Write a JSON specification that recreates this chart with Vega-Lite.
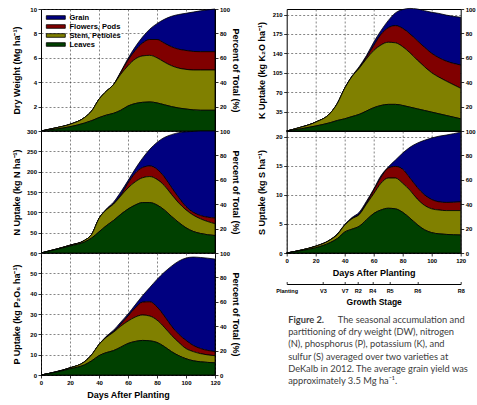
{
"$schema": "https://vega.github.io/schema/vega-lite/v6.json",
"padding": {"left": 11, "top": 5, "right": 0, "bottom": 0},
"background": "white",
"datasets": {
"dw": [{"d":0,"lv":0,"st":0,"fl":0,"tot":0},{"d":10,"lv":0.15,"st":0.25,"fl":0.25,"tot":0.25},{"d":20,"lv":0.35,"st":0.55,"fl":0.55,"tot":0.55},{"d":30,"lv":0.65,"st":1.1,"fl":1.1,"tot":1.1},{"d":35,"lv":0.85,"st":1.65,"fl":1.65,"tot":1.65},{"d":40,"lv":1.1,"st":2.6,"fl":2.6,"tot":2.6},{"d":45,"lv":1.3,"st":3.25,"fl":3.25,"tot":3.25},{"d":50,"lv":1.45,"st":3.8,"fl":3.8,"tot":3.8},{"d":55,"lv":1.7,"st":4.65,"fl":4.8,"tot":4.85},{"d":60,"lv":2.05,"st":5.35,"fl":5.8,"tot":5.95},{"d":65,"lv":2.25,"st":5.9,"fl":6.6,"tot":6.9},{"d":70,"lv":2.35,"st":6.15,"fl":7.2,"tot":7.7},{"d":75,"lv":2.38,"st":6.2,"fl":7.5,"tot":8.35},{"d":80,"lv":2.3,"st":6.0,"fl":7.5,"tot":8.8},{"d":85,"lv":2.15,"st":5.65,"fl":7.2,"tot":9.15},{"d":90,"lv":2.0,"st":5.35,"fl":6.9,"tot":9.4},{"d":95,"lv":1.88,"st":5.15,"fl":6.7,"tot":9.55},{"d":100,"lv":1.8,"st":5.05,"fl":6.6,"tot":9.65},{"d":105,"lv":1.73,"st":5.0,"fl":6.52,"tot":9.75},{"d":110,"lv":1.7,"st":5.0,"fl":6.5,"tot":9.85},{"d":120,"lv":1.7,"st":5.0,"fl":6.5,"tot":10.0}],
"n": [{"d":0,"lv":0,"st":0,"fl":0,"tot":0},{"d":10,"lv":8,"st":9,"fl":9,"tot":9},{"d":20,"lv":17,"st":19,"fl":19,"tot":19},{"d":30,"lv":27,"st":31,"fl":31,"tot":31},{"d":35,"lv":37,"st":46,"fl":46,"tot":46},{"d":40,"lv":52,"st":85,"fl":85,"tot":85},{"d":45,"lv":67,"st":106,"fl":106,"tot":108},{"d":50,"lv":80,"st":120,"fl":121,"tot":125},{"d":55,"lv":95,"st":140,"fl":142,"tot":150},{"d":60,"lv":108,"st":160,"fl":172,"tot":178},{"d":65,"lv":118,"st":175,"fl":196,"tot":207},{"d":70,"lv":124,"st":185,"fl":210,"tot":233},{"d":75,"lv":124,"st":188,"fl":214,"tot":255},{"d":80,"lv":118,"st":181,"fl":206,"tot":272},{"d":85,"lv":106,"st":166,"fl":187,"tot":284},{"d":90,"lv":90,"st":144,"fl":161,"tot":291},{"d":95,"lv":75,"st":123,"fl":136,"tot":296},{"d":100,"lv":62,"st":106,"fl":114,"tot":298},{"d":105,"lv":53,"st":93,"fl":100,"tot":299},{"d":110,"lv":48,"st":84,"fl":92,"tot":300},{"d":120,"lv":43,"st":72,"fl":86,"tot":300}],
"p": [{"d":0,"lv":0,"st":0,"fl":0,"tot":0},{"d":10,"lv":1.3,"st":1.5,"fl":1.5,"tot":1.5},{"d":20,"lv":3.0,"st":3.5,"fl":3.5,"tot":3.5},{"d":30,"lv":5.0,"st":6.5,"fl":6.5,"tot":6.5},{"d":35,"lv":7.0,"st":10,"fl":10,"tot":10},{"d":40,"lv":9.5,"st":15,"fl":15,"tot":15},{"d":45,"lv":11,"st":18.5,"fl":18.6,"tot":19},{"d":50,"lv":12,"st":21,"fl":21.3,"tot":22},{"d":55,"lv":13.7,"st":24,"fl":25,"tot":26},{"d":60,"lv":15.5,"st":26.5,"fl":29,"tot":30},{"d":65,"lv":16.5,"st":28.5,"fl":33,"tot":34.5},{"d":70,"lv":17,"st":29.5,"fl":35.8,"tot":39},{"d":75,"lv":16.8,"st":29,"fl":36,"tot":43},{"d":80,"lv":16,"st":27,"fl":33.5,"tot":47},{"d":85,"lv":14,"st":23.5,"fl":29,"tot":50.5},{"d":90,"lv":11.5,"st":19.5,"fl":24,"tot":53.5},{"d":95,"lv":9.5,"st":16,"fl":20,"tot":56},{"d":100,"lv":8,"st":13,"fl":17,"tot":57.5},{"d":105,"lv":7,"st":11.5,"fl":14.5,"tot":58},{"d":110,"lv":6.5,"st":10.5,"fl":13,"tot":57.8},{"d":120,"lv":6,"st":9.5,"fl":11.5,"tot":57}],
"k": [{"d":0,"lv":0,"st":0,"fl":0,"tot":0},{"d":10,"lv":4,"st":7,"fl":7,"tot":7},{"d":20,"lv":9,"st":16,"fl":16,"tot":16},{"d":30,"lv":15,"st":32,"fl":32,"tot":32},{"d":35,"lv":19,"st":50,"fl":50,"tot":50},{"d":40,"lv":22,"st":77,"fl":77,"tot":77},{"d":45,"lv":26,"st":98,"fl":98,"tot":99},{"d":50,"lv":30,"st":113,"fl":114,"tot":116},{"d":55,"lv":36,"st":130,"fl":133,"tot":136},{"d":60,"lv":42,"st":145,"fl":154,"tot":160},{"d":65,"lv":46,"st":155,"fl":174,"tot":181},{"d":70,"lv":48,"st":160,"fl":186,"tot":199},{"d":75,"lv":48,"st":159,"fl":190,"tot":213},{"d":80,"lv":46,"st":152,"fl":185,"tot":219},{"d":85,"lv":43,"st":141,"fl":175,"tot":221},{"d":90,"lv":40,"st":128,"fl":163,"tot":220},{"d":95,"lv":37,"st":116,"fl":151,"tot":217},{"d":100,"lv":34,"st":105,"fl":140,"tot":214},{"d":105,"lv":31,"st":97,"fl":132,"tot":212},{"d":110,"lv":28,"st":90,"fl":126,"tot":209},{"d":120,"lv":22,"st":77,"fl":119,"tot":205}],
"s": [{"d":0,"lv":0,"st":0,"fl":0,"tot":0},{"d":10,"lv":0.4,"st":0.5,"fl":0.5,"tot":0.5},{"d":20,"lv":0.9,"st":1.15,"fl":1.15,"tot":1.2},{"d":30,"lv":1.8,"st":2.25,"fl":2.25,"tot":2.3},{"d":35,"lv":2.5,"st":3.2,"fl":3.2,"tot":3.3},{"d":40,"lv":3.6,"st":4.8,"fl":4.8,"tot":4.9},{"d":45,"lv":4.1,"st":5.9,"fl":5.9,"tot":6.1},{"d":50,"lv":4.6,"st":6.6,"fl":6.7,"tot":7.0},{"d":55,"lv":5.7,"st":8.4,"fl":8.6,"tot":8.9},{"d":60,"lv":6.8,"st":10.2,"fl":10.8,"tot":11.0},{"d":65,"lv":7.4,"st":12.0,"fl":13.0,"tot":13.3},{"d":70,"lv":7.7,"st":12.9,"fl":14.6,"tot":14.8},{"d":75,"lv":7.6,"st":12.9,"fl":14.9,"tot":16.0},{"d":80,"lv":7.0,"st":12.0,"fl":14.4,"tot":17.2},{"d":85,"lv":6.0,"st":10.8,"fl":12.9,"tot":18.2},{"d":90,"lv":4.9,"st":9.3,"fl":11.3,"tot":18.9},{"d":95,"lv":4.0,"st":8.2,"fl":10.0,"tot":19.4},{"d":100,"lv":3.5,"st":7.6,"fl":9.2,"tot":19.8},{"d":105,"lv":3.3,"st":7.4,"fl":8.8,"tot":20.1},{"d":110,"lv":3.2,"st":7.3,"fl":8.7,"tot":20.3},{"d":120,"lv":3.1,"st":7.3,"fl":8.8,"tot":20.8}]
},
"columns": 2,
"bounds": "flush",
"spacing": {"row": 0, "column": 71.7},
"resolve": {"scale": {"x": "independent", "y": "independent", "color": "independent"}, "legend": {"color": "independent"}},
"concat": [
{
 "width": 174, "height": 122, "data": {"name": "dw"},
 "layer": [
  {"encoding": {"x": {"field": "d", "type": "quantitative", "scale": {"domain": [0, 120], "nice": false}, "axis": {"values": [20, 40, 60, 80, 100], "tickCount": 50, "labels": false, "ticks": false, "title": null, "grid": true}}},
   "layer": [
    {"mark": {"type": "area", "interpolate": "monotone", "stroke": "black", "strokeWidth": 0.8}, "encoding": {"y": {"field": "tot", "type": "quantitative", "scale": {"domain": [0, 10], "nice": false}, "title": "Dry Weight (Mg ha⁻¹)", "axis": {"values": [2, 4, 6, 8, 10], "format": "d", "tickCount": 50, "grid": true, "titleX": -20, "titleY": 61, "titleAlign": "center", "titleBaseline": "bottom"}}, "y2": {"field": "fl"},
      "color": {"datum": "Grain", "type": "nominal", "scale": {"domain": ["Grain", "Flowers, Pods", "Stem, Petioles", "Leaves"], "range": ["#000080", "#800000", "#808000", "#004000"]},
        "legend": {"orient": "none", "legendX": 9.3, "legendY": 3, "title": null, "symbolType": "M-2,-0.38H2V0.38H-2Z", "symbolSize": 90, "symbolStrokeColor": "black", "symbolStrokeWidth": 0.8, "symbolOpacity": 1, "rowPadding": -2.5, "labelOffset": 8.2, "padding": 0}}}},
    {"mark": {"type": "area", "interpolate": "monotone", "stroke": "black", "strokeWidth": 0.8}, "encoding": {"y": {"field": "fl", "type": "quantitative", "title": "Dry Weight (Mg ha⁻¹)"}, "y2": {"field": "st"}, "color": {"datum": "Flowers, Pods", "type": "nominal"}}},
    {"mark": {"type": "area", "interpolate": "monotone", "stroke": "black", "strokeWidth": 0.8}, "encoding": {"y": {"field": "st", "type": "quantitative", "title": "Dry Weight (Mg ha⁻¹)"}, "y2": {"field": "lv"}, "color": {"datum": "Stem, Petioles", "type": "nominal"}}},
    {"mark": {"type": "area", "interpolate": "monotone", "stroke": "black", "strokeWidth": 0.8}, "encoding": {"y": {"field": "lv", "type": "quantitative", "title": "Dry Weight (Mg ha⁻¹)"}, "y2": {"datum": 0}, "color": {"datum": "Leaves", "type": "nominal"}}},
    {"data": {"values": [{}]}, "mark": {"type": "text", "text": "DW", "font": "Liberation Sans", "fontSize": 16.5, "fontWeight": "bold", "align": "left", "baseline": "middle", "color": "black"}, "encoding": {"x": {"datum": 3.2, "type": "quantitative"}, "y": {"datum": 5.75, "type": "quantitative"}}}
   ]},
  {"mark": {"type": "point", "opacity": 0}, "encoding": {"y": {"datum": 50, "type": "quantitative", "scale": {"domain": [0, 100], "nice": false}, "axis": {"orient": "right", "values": [20, 40, 60, 80, 100], "format": "d", "tickCount": 50, "grid": false, "title": "Percent of Total (%)", "titleX": 15, "titleY": 61, "titleAlign": "center", "titleBaseline": "bottom"}}}}
 ],
 "resolve": {"scale": {"y": "independent"}}
},
{
 "width": 174, "height": 122, "data": {"name": "k"},
 "layer": [
  {"encoding": {"x": {"field": "d", "type": "quantitative", "scale": {"domain": [0, 120], "nice": false}, "axis": {"values": [20, 40, 60, 80, 100], "tickCount": 50, "labels": false, "ticks": false, "title": null, "grid": true}}},
   "layer": [
    {"mark": {"type": "area", "interpolate": "monotone", "fill": "#000080", "stroke": "black", "strokeWidth": 0.8}, "encoding": {"y": {"field": "tot", "type": "quantitative", "scale": {"domain": [0, 220], "nice": false}, "title": "K Uptake (kg K₂O ha⁻¹)", "axis": {"values": [35, 70, 105, 140, 175, 210], "format": "d", "tickCount": 50, "grid": true, "titleX": -20, "titleY": 61, "titleAlign": "center", "titleBaseline": "bottom"}}, "y2": {"field": "fl"}}},
    {"mark": {"type": "area", "interpolate": "monotone", "fill": "#800000", "stroke": "black", "strokeWidth": 0.8}, "encoding": {"y": {"field": "fl", "type": "quantitative", "title": "K Uptake (kg K₂O ha⁻¹)"}, "y2": {"field": "st"}}},
    {"mark": {"type": "area", "interpolate": "monotone", "fill": "#808000", "stroke": "black", "strokeWidth": 0.8}, "encoding": {"y": {"field": "st", "type": "quantitative", "title": "K Uptake (kg K₂O ha⁻¹)"}, "y2": {"field": "lv"}}},
    {"mark": {"type": "area", "interpolate": "monotone", "fill": "#004000", "stroke": "black", "strokeWidth": 0.8}, "encoding": {"y": {"field": "lv", "type": "quantitative", "title": "K Uptake (kg K₂O ha⁻¹)"}, "y2": {"datum": 0}}},
    {"data": {"values": [{}]}, "mark": {"type": "text", "text": "K", "font": "Liberation Sans", "fontSize": 16, "fontWeight": "bold", "align": "left", "baseline": "middle", "color": "black"}, "encoding": {"x": {"datum": 5.7, "type": "quantitative"}, "y": {"datum": 185, "type": "quantitative"}}}
   ]},
  {"mark": {"type": "point", "opacity": 0}, "encoding": {"y": {"datum": 50, "type": "quantitative", "scale": {"domain": [0, 100], "nice": false}, "axis": {"orient": "right", "values": [20, 40, 60, 80, 100], "format": "d", "tickCount": 50, "grid": false, "title": null}}}}
 ],
 "resolve": {"scale": {"y": "independent"}}
},
{
 "width": 174, "height": 122, "data": {"name": "n"},
 "layer": [
  {"encoding": {"x": {"field": "d", "type": "quantitative", "scale": {"domain": [0, 120], "nice": false}, "axis": {"values": [20, 40, 60, 80, 100], "tickCount": 50, "labels": false, "ticks": false, "title": null, "grid": true}}},
   "layer": [
    {"mark": {"type": "area", "interpolate": "monotone", "fill": "#000080", "stroke": "black", "strokeWidth": 0.8}, "encoding": {"y": {"field": "tot", "type": "quantitative", "scale": {"domain": [0, 300], "nice": false}, "title": "N Uptake (kg N ha⁻¹)", "axis": {"values": [50, 100, 150, 200, 250, 300], "format": "d", "tickCount": 50, "grid": true, "titleX": -20, "titleY": 61, "titleAlign": "center", "titleBaseline": "bottom"}}, "y2": {"field": "fl"}}},
    {"mark": {"type": "area", "interpolate": "monotone", "fill": "#800000", "stroke": "black", "strokeWidth": 0.8}, "encoding": {"y": {"field": "fl", "type": "quantitative", "title": "N Uptake (kg N ha⁻¹)"}, "y2": {"field": "st"}}},
    {"mark": {"type": "area", "interpolate": "monotone", "fill": "#808000", "stroke": "black", "strokeWidth": 0.8}, "encoding": {"y": {"field": "st", "type": "quantitative", "title": "N Uptake (kg N ha⁻¹)"}, "y2": {"field": "lv"}}},
    {"mark": {"type": "area", "interpolate": "monotone", "fill": "#004000", "stroke": "black", "strokeWidth": 0.8}, "encoding": {"y": {"field": "lv", "type": "quantitative", "title": "N Uptake (kg N ha⁻¹)"}, "y2": {"datum": 0}}},
    {"data": {"values": [{}]}, "mark": {"type": "text", "text": "N", "font": "Liberation Sans", "fontSize": 16, "fontWeight": "bold", "align": "left", "baseline": "middle", "color": "black"}, "encoding": {"x": {"datum": 5, "type": "quantitative"}, "y": {"datum": 262, "type": "quantitative"}}}
   ]},
  {"mark": {"type": "point", "opacity": 0}, "encoding": {"y": {"datum": 50, "type": "quantitative", "scale": {"domain": [0, 100], "nice": false}, "axis": {"orient": "right", "values": [20, 40, 60, 80, 100], "format": "d", "tickCount": 50, "grid": false, "title": "Percent of Total (%)", "titleX": 15, "titleY": 61, "titleAlign": "center", "titleBaseline": "bottom"}}}}
 ],
 "resolve": {"scale": {"y": "independent"}}
},
{
 "width": 174, "height": 122, "data": {"name": "s"},
 "layer": [
  {"encoding": {"x": {"field": "d", "type": "quantitative", "scale": {"domain": [0, 120], "nice": false}, "axis": {"values": [0, 20, 40, 60, 80, 100, 120], "format": "d", "tickCount": 50, "title": "Days After Planting", "grid": true, "titlePadding": 5}}},
   "layer": [
    {"mark": {"type": "area", "interpolate": "monotone", "fill": "#000080", "stroke": "black", "strokeWidth": 0.8}, "encoding": {"y": {"field": "tot", "type": "quantitative", "scale": {"domain": [0, 21], "nice": false}, "title": "S Uptake (kg S ha⁻¹)", "axis": {"values": [0, 5, 10, 15, 20], "format": "d", "tickCount": 50, "grid": true, "titleX": -20, "titleY": 61, "titleAlign": "center", "titleBaseline": "bottom"}}, "y2": {"field": "fl"}}},
    {"mark": {"type": "area", "interpolate": "monotone", "fill": "#800000", "stroke": "black", "strokeWidth": 0.8}, "encoding": {"y": {"field": "fl", "type": "quantitative", "title": "S Uptake (kg S ha⁻¹)"}, "y2": {"field": "st"}}},
    {"mark": {"type": "area", "interpolate": "monotone", "fill": "#808000", "stroke": "black", "strokeWidth": 0.8}, "encoding": {"y": {"field": "st", "type": "quantitative", "title": "S Uptake (kg S ha⁻¹)"}, "y2": {"field": "lv"}}},
    {"mark": {"type": "area", "interpolate": "monotone", "fill": "#004000", "stroke": "black", "strokeWidth": 0.8}, "encoding": {"y": {"field": "lv", "type": "quantitative", "title": "S Uptake (kg S ha⁻¹)"}, "y2": {"datum": 0}}},
    {"data": {"values": [{}]}, "mark": {"type": "text", "text": "S", "font": "Liberation Sans", "fontSize": 16, "fontWeight": "bold", "align": "left", "baseline": "middle", "color": "black"}, "encoding": {"x": {"datum": 5.5, "type": "quantitative"}, "y": {"datum": 18.2, "type": "quantitative"}}}
   ]},
  {"mark": {"type": "point", "opacity": 0}, "encoding": {"y": {"datum": 50, "type": "quantitative", "scale": {"domain": [0, 100], "nice": false}, "axis": {"orient": "right", "values": [0, 20, 40, 60, 80, 100], "format": "d", "tickCount": 50, "grid": false, "title": null}}}}
 ],
 "resolve": {"scale": {"y": "independent"}}
},
{
 "width": 174, "height": 122, "data": {"name": "p"},
 "layer": [
  {"encoding": {"x": {"field": "d", "type": "quantitative", "scale": {"domain": [0, 120], "nice": false}, "axis": {"values": [0, 20, 40, 60, 80, 100, 120], "format": "d", "tickCount": 50, "title": "Days After Planting", "grid": true, "titlePadding": 5}}},
   "layer": [
    {"mark": {"type": "area", "interpolate": "monotone", "fill": "#000080", "stroke": "black", "strokeWidth": 0.8}, "encoding": {"y": {"field": "tot", "type": "quantitative", "scale": {"domain": [0, 60], "nice": false}, "title": "P Uptake (kg P₂O₅ ha⁻¹)", "axis": {"values": [0, 10, 20, 30, 40, 50, 60], "format": "d", "tickCount": 50, "grid": true, "titleX": -20, "titleY": 61, "titleAlign": "center", "titleBaseline": "bottom"}}, "y2": {"field": "fl"}}},
    {"mark": {"type": "area", "interpolate": "monotone", "fill": "#800000", "stroke": "black", "strokeWidth": 0.8}, "encoding": {"y": {"field": "fl", "type": "quantitative", "title": "P Uptake (kg P₂O₅ ha⁻¹)"}, "y2": {"field": "st"}}},
    {"mark": {"type": "area", "interpolate": "monotone", "fill": "#808000", "stroke": "black", "strokeWidth": 0.8}, "encoding": {"y": {"field": "st", "type": "quantitative", "title": "P Uptake (kg P₂O₅ ha⁻¹)"}, "y2": {"field": "lv"}}},
    {"mark": {"type": "area", "interpolate": "monotone", "fill": "#004000", "stroke": "black", "strokeWidth": 0.8}, "encoding": {"y": {"field": "lv", "type": "quantitative", "title": "P Uptake (kg P₂O₅ ha⁻¹)"}, "y2": {"datum": 0}}},
    {"data": {"values": [{}]}, "mark": {"type": "text", "text": "P", "font": "Liberation Sans", "fontSize": 16, "fontWeight": "bold", "align": "left", "baseline": "middle", "color": "black"}, "encoding": {"x": {"datum": 5.5, "type": "quantitative"}, "y": {"datum": 53.4, "type": "quantitative"}}}
   ]},
  {"mark": {"type": "point", "opacity": 0}, "encoding": {"y": {"datum": 50, "type": "quantitative", "scale": {"domain": [0, 100], "nice": false}, "axis": {"orient": "right", "values": [0, 20, 40, 60, 80, 100], "format": "d", "tickCount": 50, "grid": false, "title": "Percent of Total (%)", "titleX": 15, "titleY": 61, "titleAlign": "center", "titleBaseline": "bottom"}}}}
 ],
 "resolve": {"scale": {"y": "independent"}}
},
{
 "width": 174, "height": 31,
 "view": {"stroke": null},
 "layer": [
  {"data": {"values": [{}]}, "mark": {"type": "point", "opacity": 0},
   "encoding": {"x": {"datum": 60, "type": "quantitative", "scale": {"domain": [0, 120], "nice": false},
     "axis": {"orient": "bottom", "values": [0, 25, 40, 49, 59, 71, 90, 120], "tickCount": 50, "labelExpr": "datum.value == 0 ? 'Planting' : datum.value == 25 ? 'V3' : datum.value == 40 ? 'V7' : datum.value == 49 ? 'R2' : datum.value == 59 ? 'R4' : datum.value == 71 ? 'R5' : datum.value == 90 ? 'R6' : 'R8'", "title": "Growth Stage", "grid": false, "domain": true, "domainColor": "black", "domainWidth": 1, "tickSize": -2.5, "labelFontSize": 5.5, "labelPadding": 7, "titleFontSize": 8.5, "titlePadding": 3.7}}}},
  {"data": {"values": [{"line": 1, "t": "Figure 2."}]}, "mark": {"type": "text", "font": "Lato", "fontSize": 9.3, "fontWeight": "bold", "align": "left", "baseline": "middle", "color": "#3c3c3c"},
   "encoding": {"x": {"datum": 1, "type": "quantitative"}, "y": {"field": "line", "type": "quantitative", "scale": {"domain": [-4.492, -1.951], "reverse": true, "nice": false, "zero": false}, "axis": null}, "text": {"field": "t"}}},
  {"data": {"values": [{"line": 1, "t": "The seasonal accumulation and"}]}, "mark": {"type": "text", "font": "Lato", "fontSize": 9.3, "align": "left", "baseline": "middle", "color": "#3c3c3c"},
   "encoding": {"x": {"datum": 35.2, "type": "quantitative"}, "y": {"field": "line", "type": "quantitative"}, "text": {"field": "t"}}},
  {"data": {"values": [{"line": 2, "t": "partitioning of dry weight (DW), nitrogen"}, {"line": 3, "t": "(N), phosphorus (P), potassium (K), and"}, {"line": 4, "t": "sulfur (S) averaged over two varieties at"}, {"line": 5, "t": "DeKalb in 2012.  The average grain yield was"}, {"line": 6, "t": "approximately 3.5 Mg ha⁻¹."}]}, "mark": {"type": "text", "font": "Lato", "fontSize": 9.3, "align": "left", "baseline": "middle", "color": "#3c3c3c"},
   "encoding": {"x": {"datum": 1, "type": "quantitative"}, "y": {"field": "line", "type": "quantitative"}, "text": {"field": "t"}}}
 ]
}
],
"config": {
 "font": "Liberation Sans",
 "view": {"stroke": "black", "strokeWidth": 1},
 "axis": {"labelFont": "Liberation Sans", "labelFontSize": 6, "labelFontWeight": "bold", "labelColor": "black", "tickColor": "black", "tickSize": 3, "tickWidth": 0.8, "labelPadding": 1.5, "domain": false, "gridColor": "#333333", "gridDash": [2, 2], "gridWidth": 0.6, "titleFont": "Liberation Sans", "titleFontSize": 9, "titleFontWeight": "bold", "titleColor": "black", "labelFlush": false, "labelOverlap": false, "labelBound": false},
 "legend": {"labelFont": "Liberation Sans", "labelFontSize": 7.5, "labelFontWeight": "bold", "labelColor": "black"}
}
}
